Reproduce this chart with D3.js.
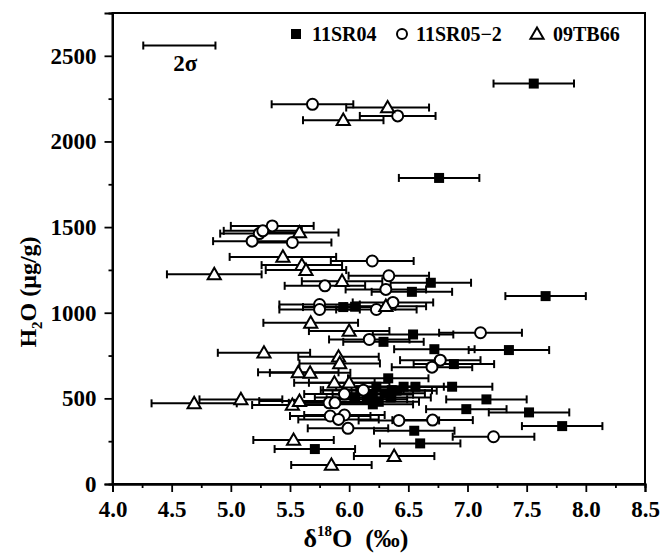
<!DOCTYPE html>
<html><head><meta charset="utf-8">
<script src="https://cdnjs.cloudflare.com/ajax/libs/d3/7.8.5/d3.min.js"></script>
<style>body{margin:0;background:#fff}svg{display:block}</style>
</head><body><svg id="c" width="663" height="553"></svg>
<script>
// ---- data ----
const xTicks = [4.0,4.5,5.0,5.5,6.0,6.5,7.0,7.5,8.0,8.5];
const yTicks = [0,500,1000,1500,2000,2500];
const seriesNames = ["11SR04","11SR05\u22122","09TB66"];

const sr04X = [7.56,6.76,7.66,6.69,6.53,5.95,6.05,6.54,6.29,6.72,7.35,6.885,6.33,6.23,6.46,6.56,6.87,6.36,6.10,6.20,6.30,6.05,6.15,6.35,6.25,6.20,6.40,7.16,6.99,7.52,7.80,6.55,6.60,5.71];
const sr04Y = [2338,1787,1097,1175,1122,1033,1035,873,830,787,782,700,617,568,568,568,568,548,548,522,530,505,495,505,480,465,545,494,437,418,338,311,237,204];
const sr04E = sr04X.map(()=>0.34);

const sr05X = [5.69,6.41,5.35,5.24,5.27,5.18,5.52,6.195,6.335,6.31,5.795,6.37,5.75,5.75,6.23,7.11,6.17,6.77,6.70,6.12,5.96,5.83,5.88,5.84,5.96,5.91,5.99,6.42,6.705,7.22];
const sr05Y = [2217,2149,1507,1462,1478,1418,1410,1302,1216,1136,1157,1060,1048,1019,1019,883,844,723,682,548,525,474,474,397,403,377,325,371,373,276];
const sr05E = [0.345,0.32,0.35,0.33,0.33,0.33,0.33,0.35,0.34,0.34,0.34,0.34,0.34,0.34,0.34,0.35,0.34,0.34,0.34,0.34,0.34,0.34,0.34,0.34,0.34,0.34,0.34,0.34,0.34,0.345];

const tb66X = [6.325,5.95,5.58,5.44,5.60,5.635,4.86,5.94,6.31,5.675,6.0,5.28,5.91,5.92,5.57,5.67,5.875,6.0,4.69,5.085,5.52,5.58,5.53,6.38,5.85];
const tb66Y = [2198,2124,1468,1326,1278,1249,1224,1184,1038,941,893,766,743,704,652,649,591,591,471,494,461,484,257,163,111];
const tb66E = [0.35,0.34,0.33,0.45,0.34,0.34,0.40,0.34,0.34,0.40,0.34,0.39,0.34,0.34,0.34,0.34,0.34,0.34,0.36,0.35,0.34,0.34,0.34,0.34,0.34];

const sigmaRef = {x:4.565, half:0.305, y:2560};

// ---- layout ----
const L=112.5, R=645, T=13, B=484;
const x = d3.scaleLinear().domain([4,8.5]).range([L,R]);
const y = d3.scaleLinear().domain([0,2750]).range([B,T]);
const svg = d3.select("#c");
const FONT = "'Liberation Serif','Times New Roman',serif";

// frame
svg.append("rect").attr("x",L).attr("y",T).attr("width",R-L).attr("height",B-T)
  .attr("fill","none").attr("stroke","#000").attr("stroke-width",2);

// axes
const gx = svg.append("g").attr("transform",`translate(0,${B})`)
  .call(d3.axisBottom(x).tickValues(xTicks).tickFormat(d3.format(".1f")).tickSize(8).tickPadding(9));
const gxm = svg.append("g").attr("transform",`translate(0,${B})`)
  .call(d3.axisBottom(x).tickValues(d3.range(4.25,8.5,0.5)).tickFormat("").tickSize(4));
const gy = svg.append("g").attr("transform",`translate(${L},0)`)
  .call(d3.axisLeft(y).tickValues(yTicks).tickFormat(d3.format("d")).tickSize(8).tickPadding(8));
const gym = svg.append("g").attr("transform",`translate(${L},0)`)
  .call(d3.axisLeft(y).tickValues(d3.range(250,2750,500)).tickFormat("").tickSize(4));
[gx,gxm,gy,gym].forEach(g=>{
  g.select(".domain").attr("stroke","#000").attr("stroke-width",2);
  g.selectAll(".tick line").attr("stroke","#000").attr("stroke-width",1.8);
  g.selectAll("text").attr("font-family",FONT).attr("font-weight","bold").attr("font-size",23).attr("fill","#000");
});

// axis titles
const xt = svg.append("text").attr("x",356).attr("y",547).attr("text-anchor","middle")
  .attr("font-family",FONT).attr("font-weight","bold").attr("font-size",26);
xt.append("tspan").text("\u03b4");
xt.append("tspan").attr("font-size",15).attr("dy",-11).text("18");
xt.append("tspan").attr("dy",11).text("O\u00a0 (\u2030)");

const yt = svg.append("text").attr("transform",`translate(36,292) rotate(-90)`).attr("text-anchor","middle")
  .attr("font-family",FONT).attr("font-weight","bold").attr("font-size",24);
yt.append("tspan").text("H");
yt.append("tspan").attr("font-size",15).attr("dy",6).text("2");
yt.append("tspan").attr("dy",-6).text("O (\u03bcg/g)");

// data
const mk = (X,Y,E)=>X.map((v,i)=>({x:v,y:Y[i],e:E[i]}));
const sets = [mk(sr04X,sr04Y,sr04E), mk(sr05X,sr05Y,sr05E), mk(tb66X,tb66Y,tb66E)];
const all = sets.flat();

const bars = svg.append("g").attr("stroke","#000").attr("stroke-width",2);
function errbar(d){
  const g = bars.append("g");
  g.append("line").attr("x1",x(d.x-d.e)).attr("x2",x(d.x+d.e)).attr("y1",y(d.y)).attr("y2",y(d.y));
  [d.x-d.e,d.x+d.e].forEach(v=>g.append("line").attr("x1",x(v)).attr("x2",x(v)).attr("y1",y(d.y)-4).attr("y2",y(d.y)+4));
}
all.forEach(errbar);

// markers
svg.append("g").selectAll("rect").data(sets[0]).join("rect")
  .attr("x",d=>x(d.x)-5).attr("y",d=>y(d.y)-5).attr("width",10).attr("height",10).attr("fill","#000");
svg.append("g").selectAll("circle").data(sets[1]).join("circle")
  .attr("cx",d=>x(d.x)).attr("cy",d=>y(d.y)).attr("r",5.5).attr("fill","#fff").attr("stroke","#000").attr("stroke-width",2);
const tri = d3.symbol().type(d3.symbolTriangle).size(75);
svg.append("g").selectAll("path").data(sets[2]).join("path")
  .attr("d",tri).attr("transform",d=>`translate(${x(d.x)},${y(d.y)+1})`)
  .attr("fill","#fff").attr("stroke","#000").attr("stroke-width",2);

// 2 sigma reference
errbar({x:sigmaRef.x,y:sigmaRef.y,e:sigmaRef.half});
svg.append("text").attr("x",x(sigmaRef.x)+6).attr("y",y(sigmaRef.y)+25).attr("text-anchor","middle")
  .attr("font-family",FONT).attr("font-weight","bold").attr("font-size",23).text("2\u03c3");

// legend
const lg = svg.append("g").attr("font-family",FONT).attr("font-weight","bold").attr("font-size",20);
const ly = 34;
lg.append("rect").attr("x",291).attr("y",ly-5).attr("width",10).attr("height",10).attr("fill","#000");
lg.append("text").attr("x",312).attr("y",ly+7).text(seriesNames[0]);
lg.append("circle").attr("cx",402).attr("cy",ly).attr("r",5).attr("fill","#fff").attr("stroke","#000").attr("stroke-width",2);
lg.append("text").attr("x",416).attr("y",ly+7).text(seriesNames[1]);
lg.append("path").attr("d",tri).attr("transform",`translate(537,${ly+1})`).attr("fill","#fff").attr("stroke","#000").attr("stroke-width",2);
lg.append("text").attr("x",553).attr("y",ly+7).text(seriesNames[2]);
</script></body></html>
